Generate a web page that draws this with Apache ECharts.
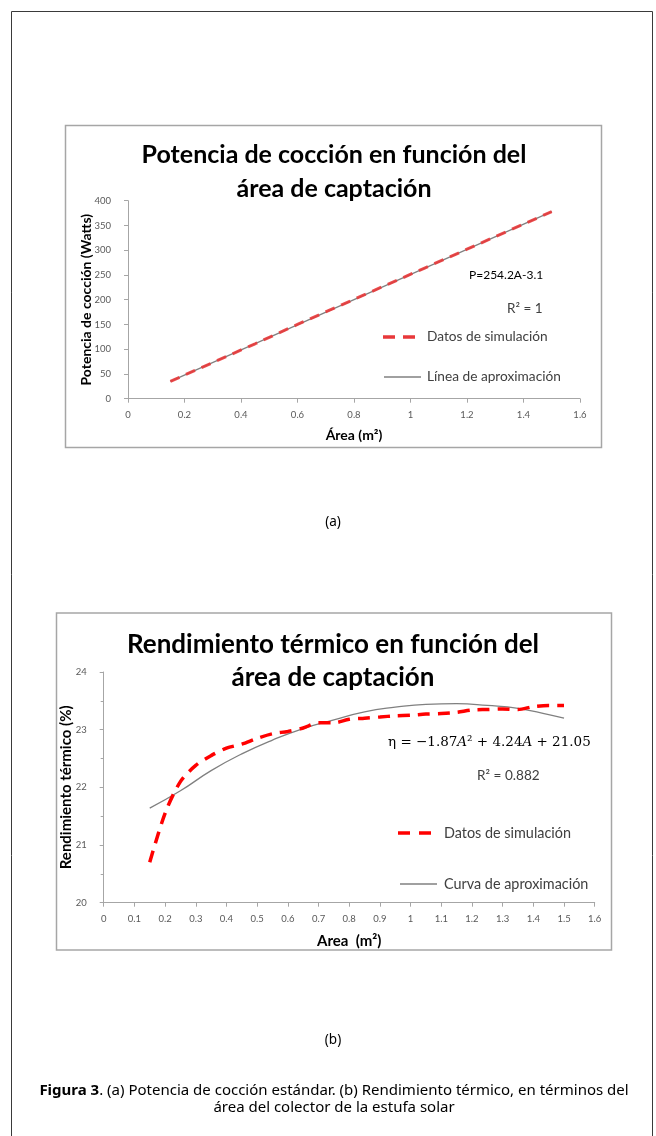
<!DOCTYPE html>
<html>
<head>
<meta charset="utf-8">
<script src="https://cdn.jsdelivr.net/npm/echarts@6/dist/echarts.min.js"></script>
<style>
  html, body { margin: 0; padding: 0; background: #fff; }
  #chart { width: 656px; height: 1136px; }
</style>
</head>
<body>
<div id="chart"></div>
<script>
// (a) potencia de cocción vs área
const areaSimA = [0.15, 0.3, 0.45, 0.6, 0.75, 0.9, 1.05, 1.2, 1.35, 1.5]
const potenciaSim = [35, 73, 111, 150, 188, 226, 264, 302, 340, 378]
const areaAproxA = [0.15, 1.5]
const potenciaAprox = [35, 378]

// (b) rendimiento térmico vs área
const areaSimB = [0.15, 0.2, 0.25, 0.3, 0.35, 0.4, 0.45, 0.5, 0.55, 0.6, 0.65, 0.7, 0.75, 0.8,
  0.85, 0.9, 0.95, 1.0, 1.05, 1.1, 1.15, 1.2, 1.25, 1.3, 1.35, 1.4, 1.45, 1.5]
const rendimientoSim = [20.7, 21.55, 22.1, 22.38, 22.55, 22.68, 22.75, 22.85, 22.93, 22.97, 23.03, 23.12, 23.12, 23.18,
  23.2, 23.22, 23.24, 23.25, 23.27, 23.28, 23.3, 23.34, 23.35, 23.36, 23.35, 23.4, 23.42, 23.42]
const areaAproxB = [0.15, 0.25, 0.35, 0.45, 0.55, 0.65, 0.75, 0.85, 0.95, 1.05, 1.15, 1.25, 1.35, 1.45, 1.5]
const rendimientoAprox = [21.64, 21.94, 22.29, 22.58, 22.82, 23.02, 23.17, 23.31, 23.39, 23.44, 23.45, 23.42, 23.37, 23.26, 23.2]

const pairs = (xs, ys) => xs.map((x, i) => [x, ys[i]])

const FONT = 'Lato'
const tickColor = '#595959'
const axisColor = '#a6a6a6'
const RED_A = '#e8383a'
const RED_B = '#ff0000'
const GRAY = '#808080'

function axisBase(margin, nameSize) {
  return {
    axisLine: { show: true, lineStyle: { color: axisColor, width: 1 } },
    axisTick: { show: true, inside: false, length: 4, lineStyle: { color: axisColor } },
    splitLine: { show: false },
    axisLabel: { color: tickColor, fontFamily: FONT, fontSize: 9.5, margin: margin },
    nameMoveOverlap: false,
    nameTextStyle: { color: '#000', fontFamily: FONT, fontWeight: 'bold', fontSize: nameSize }
  }
}

// leyenda dibujada a mano (línea + texto)
function legendItem(x1, x2, y, textX, text, lineStyle, fontSize) {
  return [
    { type: 'line', shape: { x1: x1, y1: y, x2: x2, y2: y }, style: lineStyle, silent: true },
    { type: 'text', x: textX, y: y, style: { text: text, fontFamily: FONT, fontSize: fontSize,
      fill: '#404040', verticalAlign: 'middle' } }
  ]
}

const chart = echarts.init(document.getElementById('chart'))

chart.setOption({
  animation: false,
  backgroundColor: '#fff',
  grid: [
    { left: 128, top: 200.7, width: 452, height: 198 },
    { left: 103.7, top: 672, width: 491, height: 230.7 }
  ],
  xAxis: [
    Object.assign(axisBase(11, 14), {
      type: 'value', gridIndex: 0, min: 0, max: 1.6, interval: 0.2,
      name: 'Área (m²)', nameLocation: 'middle', nameGap: 30
    }),
    Object.assign(axisBase(11, 15), {
      type: 'value', gridIndex: 1, min: 0, max: 1.6, interval: 0.1,
      name: 'Area  (m²)', nameLocation: 'middle', nameGap: 31
    })
  ],
  yAxis: [
    Object.assign(axisBase(17, 14), {
      type: 'value', gridIndex: 0, min: 0, max: 400, interval: 50,
      name: 'Potencia de cocción (Watts)', nameLocation: 'middle', nameGap: 35
    }),
    Object.assign(axisBase(17, 15), {
      type: 'value', gridIndex: 1, min: 20, max: 24, interval: 1,
      minorTick: { show: true, splitNumber: 2, length: 3, lineStyle: { color: axisColor } },
      name: 'Rendimiento térmico (%)', nameLocation: 'middle', nameGap: 30
    })
  ],
  series: [
    {
      name: 'Línea de aproximación', type: 'line', xAxisIndex: 0, yAxisIndex: 0,
      symbol: 'none', data: pairs(areaAproxA, potenciaAprox),
      lineStyle: { color: GRAY, width: 1.3 }, z: 2
    },
    {
      name: 'Datos de simulación', type: 'line', xAxisIndex: 0, yAxisIndex: 0,
      symbol: 'none', data: pairs(areaSimA, potenciaSim),
      lineStyle: { color: RED_A, width: 3, type: [10, 7], opacity: 0.9 }, z: 3
    },
    {
      name: 'Curva de aproximación', type: 'line', xAxisIndex: 1, yAxisIndex: 1,
      symbol: 'none', smooth: true, data: pairs(areaAproxB, rendimientoAprox),
      lineStyle: { color: GRAY, width: 1.3 }, z: 2
    },
    {
      name: 'Datos de simulación (b)', type: 'line', xAxisIndex: 1, yAxisIndex: 1,
      symbol: 'none', smooth: 0.3, data: pairs(areaSimB, rendimientoSim),
      lineStyle: { color: RED_B, width: 3.5, type: [12, 8] }, z: 3
    }
  ],
  graphic: [
    // marco exterior
    { type: 'rect', shape: { x: 11.5, y: 11.5, width: 641, height: 1150 },
      style: { fill: 'none', stroke: '#3a3a3a', lineWidth: 1 }, silent: true },
    // marcos de las gráficas
    { type: 'rect', shape: { x: 65.5, y: 125.5, width: 536, height: 322 },
      style: { fill: 'none', stroke: '#a6a6a6', lineWidth: 1.5 }, silent: true },
    { type: 'rect', shape: { x: 56.5, y: 613, width: 555, height: 337 },
      style: { fill: 'none', stroke: '#a6a6a6', lineWidth: 1.5 }, silent: true },
    // títulos
    { type: 'text', x: 334, y: 138, style: { text: 'Potencia de cocción en función del\nárea de captación',
      fontFamily: FONT, fontWeight: 'bold', fontSize: 25, lineHeight: 34, fill: '#000',
      align: 'center', verticalAlign: 'top' } },
    { type: 'text', x: 333, y: 628, style: { text: 'Rendimiento térmico en función del\nárea de captación',
      fontFamily: FONT, fontWeight: 'bold', fontSize: 26, lineHeight: 33, fill: '#000',
      align: 'center', verticalAlign: 'top' } },
    // anotaciones (a)
    { type: 'text', x: 469, y: 275, style: { text: 'P=254.2A-3.1', fontFamily: FONT, fontSize: 12,
      fill: '#000', verticalAlign: 'middle' } },
    { type: 'text', x: 507, y: 309, style: { text: 'R² = 1', fontFamily: FONT, fontSize: 13.5,
      fill: '#404040', verticalAlign: 'middle' } },
    ...legendItem(383, 416, 337, 427, 'Datos de simulación', { stroke: RED_A, lineWidth: 3.5, lineDash: [12, 8] }, 13.7),
    ...legendItem(384, 421, 377, 427, 'Línea de aproximación', { stroke: GRAY, lineWidth: 1.3 }, 13.7),
    // anotaciones (b)
    { type: 'text', x: 388, y: 742, style: {
      text: '{n|η = −1.87}{i|A}{n|² + 4.24}{i|A}{n| + 21.05}',
      verticalAlign: 'middle',
      rich: {
        n: { fontFamily: 'DejaVu Serif', fontSize: 13.5, fill: '#000' },
        i: { fontFamily: 'DejaVu Serif', fontStyle: 'italic', fontSize: 13.5, fill: '#000' }
      } } },
    { type: 'text', x: 477, y: 776, style: { text: 'R² = 0.882', fontFamily: FONT, fontSize: 13.6,
      fill: '#404040', verticalAlign: 'middle' } },
    ...legendItem(398, 432, 833, 444, 'Datos de simulación', { stroke: RED_B, lineWidth: 3.5, lineDash: [12, 9] }, 14.4),
    ...legendItem(400, 437, 884, 444, 'Curva de aproximación', { stroke: GRAY, lineWidth: 1.3 }, 14.4),
    // subtítulos
    { type: 'text', x: 333, y: 522, style: { text: '(a)', fontFamily: 'Noto Sans', fontSize: 13.5,
      fill: '#000', align: 'center', verticalAlign: 'middle' } },
    { type: 'text', x: 333, y: 1040, style: { text: '(b)', fontFamily: 'Noto Sans', fontSize: 13.5,
      fill: '#000', align: 'center', verticalAlign: 'middle' } },
    // pie de figura
    { type: 'text', x: 334, y: 1099, style: {
      text: '{b|Figura 3}{n|. (a) Potencia de cocción estándar. (b) Rendimiento térmico, en términos del}\n{n|área del colector de la estufa solar}',
      align: 'center', verticalAlign: 'middle', lineHeight: 17,
      rich: {
        b: { fontFamily: 'Noto Sans', fontWeight: 'bold', fontSize: 15, fill: '#000', lineHeight: 17 },
        n: { fontFamily: 'Noto Sans', fontSize: 15, fill: '#000', lineHeight: 17 }
      } } }
  ]
})
</script>
</body>
</html>
